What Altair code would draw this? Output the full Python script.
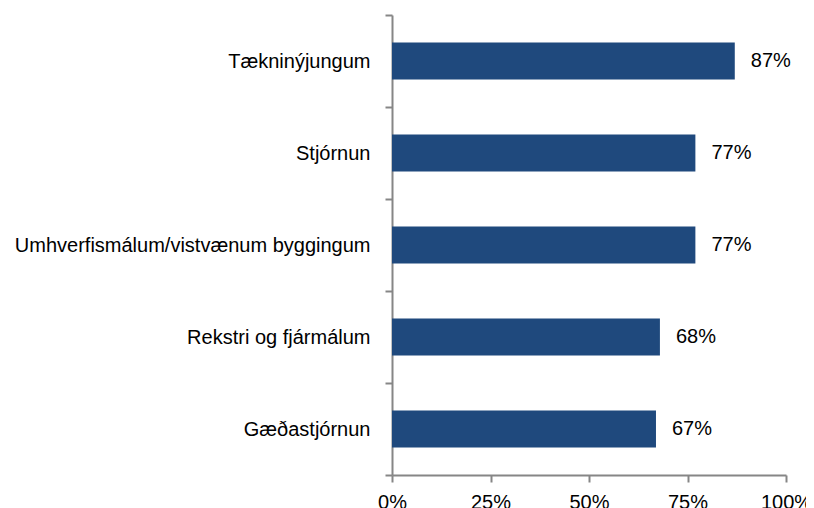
import altair as alt
import pandas as pd

categories = ["Tækninýjungum", "Stjórnun", "Umhverfismálum/vistvænum byggingum",
              "Rekstri og fjármálum", "Gæðastjórnun"]
values = [0.87, 0.77, 0.77, 0.68, 0.67]
labels = ["87%", "77%", "77%", "68%", "67%"]

df = pd.DataFrame({"cat": categories, "val": values, "lab": labels})

FONT = "Liberation Sans"
GRAY = "#868686"

y_enc = alt.Y("cat:N", sort=categories, title=None,
              scale=alt.Scale(paddingInner=0, paddingOuter=0),
              axis=alt.Axis(tickBand="extent", domainColor=GRAY, domainWidth=2,
                            tickColor=GRAY, tickWidth=2, tickSize=7,
                            labelFont=FONT, labelFontSize=20, labelColor="black",
                            labelPadding=15, labelLimit=500))
x_enc = alt.X("val:Q", title=None,
              scale=alt.Scale(domain=[0, 1]),
              axis=alt.Axis(values=[0, 0.25, 0.5, 0.75, 1.0], format=".0%",
                            grid=False, domainColor=GRAY, domainWidth=2,
                            tickColor=GRAY, tickWidth=2, tickSize=7,
                            labelFont=FONT, labelFontSize=20, labelColor="black",
                            labelPadding=10, labelFlush=False))

bars = alt.Chart(df).mark_bar(size=37, color="#1F497D").encode(x=x_enc, y=y_enc)
text = alt.Chart(df).mark_text(align="left", baseline="middle", dx=16,
                               font=FONT, fontSize=20, color="black").encode(
    x="val:Q", y=alt.Y("cat:N", sort=categories), text="lab:N")

chart = (bars + text).properties(
    width=394, height=460,
    autosize=alt.AutoSizeParams(type="none"),
    padding={"left": 384, "top": 7, "right": 20, "bottom": 40},
).configure_view(stroke=None)

chart.save("out.html", embed_options={"renderer": "svg", "actions": False})
